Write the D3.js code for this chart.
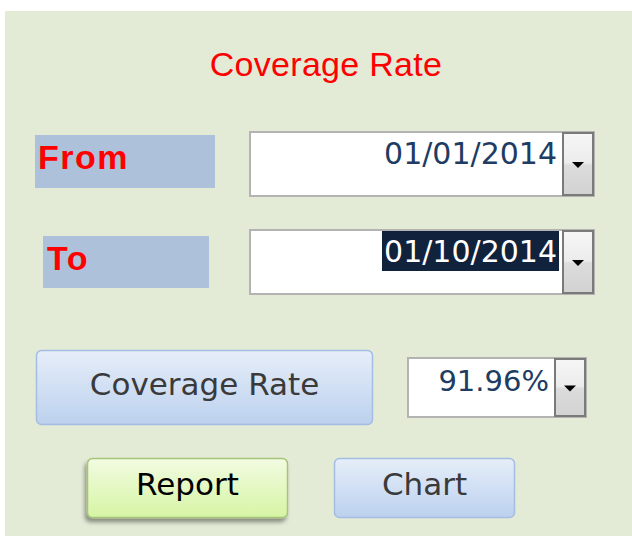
<!DOCTYPE html>
<html>
<head>
<meta charset="utf-8">
<script src="https://cdn.jsdelivr.net/npm/d3@7"></script>
<style>
  html, body { margin: 0; padding: 0; background: #fff; }
  svg { display: block; }
</style>
</head>
<body>
<div id="form-area"></div>
<script>
// form content
const titleText = "Coverage Rate";
const fieldLabels = ["From", "To"];
const dateValues = ["01/01/2014", "01/10/2014"];
const selectedField = "To";
const rateButton = "Coverage Rate";
const rateValue = ["91.96%"];
const actionButtons = ["Report", "Chart"];

const W = 632, H = 536;

const svg = d3.select("#form-area")
    .append("svg")
    .attr("width", W)
    .attr("height", H);

const defs = svg.append("defs");

function vGrad(id, stops) {
    const g = defs.append("linearGradient")
        .attr("id", id)
        .attr("x1", 0).attr("y1", 0)
        .attr("x2", 0).attr("y2", 1);
    stops.forEach(s => g.append("stop").attr("offset", s[0]).attr("stop-color", s[1]));
}
vGrad("blueBtn", [[0, "#e6eef9"], [1, "#bcd1ee"]]);
vGrad("greenBtn", [[0, "#f2fbe2"], [1, "#d6f5a4"]]);
vGrad("dropBtn", [[0, "#f6f6f6"], [0.48, "#ececec"], [0.52, "#dcdcdc"], [1, "#d2d2d2"]]);

const shadow = defs.append("filter").attr("id", "shadow")
    .attr("x", -0.2).attr("y", -0.2).attr("width", 1.4).attr("height", 1.5);
shadow.append("feDropShadow")
    .attr("dx", -2).attr("dy", 4).attr("stdDeviation", 2)
    .attr("flood-color", "#000").attr("flood-opacity", 0.4);

// panel
svg.append("rect")
    .attr("x", 5).attr("y", 11)
    .attr("width", W - 5).attr("height", H - 11)
    .attr("fill", "#e3ebd6");

// title
svg.append("text")
    .attr("x", 326).attr("y", 76)
    .attr("text-anchor", "middle")
    .attr("font-family", "Liberation Sans, Arial, sans-serif")
    .attr("font-size", "34px")
    .attr("letter-spacing", "0.3px")
    .attr("fill", "#ff0000")
    .text(titleText);

// rows: From / To
const rowY = d3.scaleOrdinal().domain(fieldLabels).range([131, 229]);
const labelBox = d3.scaleOrdinal().domain(fieldLabels)
    .range([{x: 35, dy: 4, w: 180, h: 53, tx: 38}, {x: 43, dy: 7, w: 166, h: 52, tx: 47}]);

const rows = svg.selectAll("g.row")
    .data(fieldLabels.map((f, i) => ({field: f, date: dateValues[i]})))
    .enter()
    .append("g")
    .attr("class", "row")
    .attr("transform", d => "translate(0," + rowY(d.field) + ")");

rows.append("rect")
    .attr("x", d => labelBox(d.field).x)
    .attr("y", d => labelBox(d.field).dy)
    .attr("width", d => labelBox(d.field).w)
    .attr("height", d => labelBox(d.field).h)
    .attr("fill", "#adc1da");

rows.append("text")
    .attr("x", d => labelBox(d.field).tx)
    .attr("y", d => labelBox(d.field).dy + 34)
    .attr("font-family", "Liberation Sans, Arial, sans-serif")
    .attr("font-weight", "bold")
    .attr("font-size", "34px")
    .attr("letter-spacing", "1.5px")
    .attr("fill", "#ff0000")
    .text(d => d.field);

// combo boxes
function comboBox(sel, x, y, w, h) {
    sel.append("rect")
        .attr("x", x + 1).attr("y", y + 1)
        .attr("width", w - 2).attr("height", h - 2)
        .attr("fill", "#fff")
        .attr("stroke", "#b3b3b3")
        .attr("stroke-width", 2);
    const bx = x + w - 33;
    sel.append("rect")
        .attr("x", bx + 1).attr("y", y + 2)
        .attr("width", 30).attr("height", h - 4)
        .attr("fill", "url(#dropBtn)")
        .attr("stroke", "#7a7a7a")
        .attr("stroke-width", 2);
    const cx = bx + 16, cy = y + h / 2;
    sel.append("path")
        .attr("d", "M" + (cx - 6) + "," + (cy - 2) + "L" + (cx + 6) + "," + (cy - 2) + "L" + cx + "," + (cy + 4) + "Z")
        .attr("fill", "#000");
}

rows.each(function() { comboBox(d3.select(this), 249, 0, 346, 66); });

rows.filter(d => d.field === selectedField)
    .append("rect")
    .attr("x", 382).attr("y", 2)
    .attr("width", 177).attr("height", 40)
    .attr("fill", "#11223d");

rows.append("text")
    .attr("x", 557)
    .attr("y", 33)
    .attr("text-anchor", "end")
    .attr("font-family", "DejaVu Sans, sans-serif")
    .attr("font-size", "30px")
    .attr("fill", d => d.field === selectedField ? "#ffffff" : "#203c62")
    .text(d => d.date);

// coverage rate button + value
function button(x, y, w, h, fill, stroke, label, color, filter) {
    const b = svg.append("g");
    b.append("rect")
        .attr("x", x + 0.5).attr("y", y + 0.5)
        .attr("width", w - 1).attr("height", h - 1)
        .attr("rx", 5)
        .attr("fill", fill)
        .attr("stroke", stroke)
        .attr("stroke-width", 1.5)
        .attr("filter", filter || null);
    b.append("text")
        .attr("x", x + w / 2)
        .attr("y", y + h / 2 + 7)
        .attr("text-anchor", "middle")
        .attr("font-family", "DejaVu Sans, sans-serif")
        .attr("font-size", "31px")
        .attr("fill", color)
        .text(label);
}

button(36, 350, 337, 75, "url(#blueBtn)", "#a3bde3", rateButton, "#3a3a3a");

const rateBox = svg.append("g");
comboBox(rateBox, 407, 357, 180, 61);
rateBox.selectAll("text.rate")
    .data(rateValue)
    .enter()
    .append("text")
    .attr("class", "rate")
    .attr("x", 549).attr("y", 391)
    .attr("text-anchor", "end")
    .attr("font-family", "DejaVu Sans, sans-serif")
    .attr("font-size", "29px")
    .attr("fill", "#203c62")
    .text(d => d);

// bottom buttons
const btnX = d3.scaleOrdinal().domain(actionButtons).range([87, 334]);
const btnW = d3.scaleOrdinal().domain(actionButtons).range([201, 181]);
actionButtons.forEach(name => {
    if (name === "Report") {
        button(btnX(name), 458, btnW(name), 60, "url(#greenBtn)", "#a6c47a", name, "#000", "url(#shadow)");
    } else {
        button(btnX(name), 458, btnW(name), 60, "url(#blueBtn)", "#a3bde3", name, "#3a3a3a");
    }
});
</script>
</body>
</html>
